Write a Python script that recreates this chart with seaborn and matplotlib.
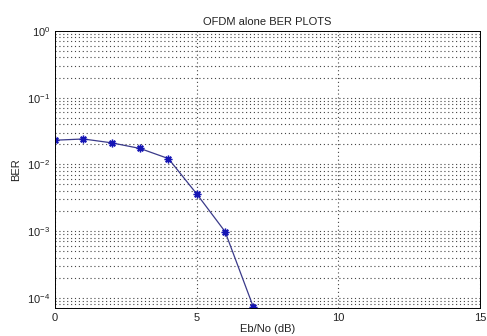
import matplotlib
matplotlib.use("Agg")
import matplotlib.pyplot as plt
import numpy as np
import pandas as pd
import seaborn as sns

# values
ebno_db = [0, 1, 2, 3, 4, 5, 6, 7]
ber = [0.023, 0.024, 0.021, 0.0173, 0.0122, 0.0036, 0.00098, 0.000072]

title = "OFDM alone BER PLOTS"
xlabel = "Eb/No (dB)"
ylabel = "BER"
xticks = [0, 5, 10, 15]

sns.set_style("white")
plt.rcParams["font.family"] = ["Liberation Sans", "DejaVu Sans"]
plt.rcParams["mathtext.fontset"] = "custom"
plt.rcParams["mathtext.rm"] = "Liberation Sans"
plt.rcParams["mathtext.it"] = "Liberation Sans"
plt.rcParams["text.color"] = "#222222"
plt.rcParams["axes.labelcolor"] = "#222222"

df = pd.DataFrame({"ebno": ebno_db, "ber": ber})

fig = plt.figure(figsize=(4.87, 3.36), dpi=100)
ax = fig.add_axes([0.113, 0.083, 0.873, 0.825])

# matlab-style asterisk marker
sns.lineplot(data=df, x="ebno", y="ber", ax=ax, color="#3a3a8a", linewidth=0.9,
             marker=(8, 2, 0), markersize=5.5, markeredgewidth=1.0,
             markeredgecolor="#1515b5")

ax.set_yscale("log")
ax.set_xlim(0, 15)
ax.set_ylim(7e-5, 1)
ax.set_xticks(xticks)
ax.set_xticklabels([str(t) for t in xticks])

grid_kw = dict(linestyle=(0, (1, 2.5)), color="#444444", linewidth=0.8)
ax.grid(True, which="major", axis="both", **grid_kw)
ax.grid(True, which="minor", axis="y", **grid_kw)
ax.tick_params(which="both", direction="in", labelsize=8, length=3,
               color="black", labelcolor="#222222")
ax.tick_params(which="minor", length=2)
for s in ax.spines.values():
    s.set_color("black")
    s.set_linewidth(0.7)

ax.set_title(title, fontsize=8, pad=4)
ax.set_xlabel(xlabel, fontsize=8, labelpad=1)
ax.set_ylabel(ylabel, fontsize=8, labelpad=4)

fig.savefig("out.png", dpi=100)
